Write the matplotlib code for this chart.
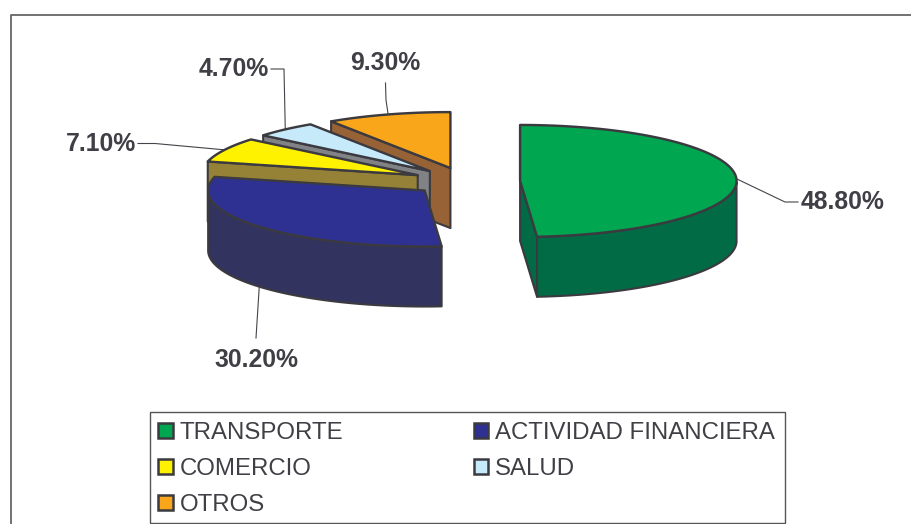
import numpy as np
import matplotlib
matplotlib.use("Agg")
import matplotlib.pyplot as plt
from matplotlib.patches import Polygon, Patch, Rectangle

# --- data
categories = ["TRANSPORTE", "ACTIVIDAD FINANCIERA", "COMERCIO", "SALUD", "OTROS"]
shares = [48.8, 30.2, 7.1, 4.7, 9.3]
top_colors = ["#00A650", "#2E3192", "#FFF200", "#C7EAFB", "#F9A61A"]
side_colors = ["#006B44", "#33335F", "#968237", "#808285", "#976236"]

# --- layout (pixel space)
W, H = 911, 524
CX, CY = 466, 181.5
RX, RY = 216.5, 56
DEPTH = 60
EXPLODE = 0.25
EDGE = "#3A3A40"
TEXT = "#3F3F45"
LW = 1.5

# label box position, and elbow / end of each leader line
label_pos = [(842.5, 202), (256, 360), (101, 144), (234, 69), (385.5, 63)]
leader_via = [[(785, 202), (798, 202)], [(256, 338)], [(155, 143.5), (138, 143.5)],
              [(284, 69), (271, 69)], [(386, 100), (385.5, 83)]]
leader_on_side = [False, True, False, False, False]

fig = plt.figure(figsize=(W / 100, H / 100), dpi=100)
ax = fig.add_axes([0, 0, 1, 1])
ax.set_xlim(0, W)
ax.set_ylim(H, 0)
ax.axis("off")
plt.rcParams["font.family"] = ["Liberation Sans", "DejaVu Sans"]

# outer chart frame
ax.plot([10.5, 10.5, W], [H, 14.5, 14.5], color="#666666", lw=1.3, solid_capstyle="butt", zorder=1)

# --- slices, clockwise from 12 o'clock
sweeps = np.array(shares) / sum(shares) * 360
starts = 90 - np.concatenate([[0], np.cumsum(sweeps)[:-1]])
ends = starts - sweeps
mids = (starts + ends) / 2
centers = [(CX + EXPLODE * RX * np.cos(np.radians(m)),
            CY - EXPLODE * RY * np.sin(np.radians(m))) for m in mids]


def ell(c, deg):
    r = np.radians(deg)
    return np.column_stack([c[0] + RX * np.cos(r), c[1] - RY * np.sin(r)])


z = 3
# paint from back to front
for i in [4, 3, 2, 1, 0]:
    c = centers[i]
    a1, a2 = starts[i], ends[i]
    arc_deg = np.linspace(a1, a2, 120)
    arc = ell(c, arc_deg)
    # radial walls that face the viewer
    for ang, vis in ((a1, np.cos(np.radians(a1)) < -1e-6), (a2, np.cos(np.radians(a2)) > 1e-6)):
        if vis:
            p = ell(c, np.array([ang]))[0]
            poly = [c, p, (p[0], p[1] + DEPTH), (c[0], c[1] + DEPTH)]
            ax.add_patch(Polygon(poly, closed=True, fc=side_colors[i], ec=EDGE, lw=LW,
                                 joinstyle="round", zorder=z))
            z += 1
    # outer rim (front half only)
    front = arc_deg[np.sin(np.radians(arc_deg)) <= 0]
    if front.size > 1:
        rim = ell(c, front)
        low = rim + np.array([0, DEPTH])
        ax.add_patch(Polygon(np.vstack([rim, low[::-1]]), closed=True, fc=side_colors[i],
                             ec=EDGE, lw=LW, joinstyle="round", zorder=z))
        z += 1
    # top face
    ax.add_patch(Polygon(np.vstack([[c], arc]), closed=True, fc=top_colors[i], ec=EDGE,
                         lw=LW * 1.15, joinstyle="round", zorder=z))
    z += 1

# --- leader lines and percentage labels
for i in range(len(shares)):
    a = ell(centers[i], np.array([mids[i]]))[0]
    if leader_on_side[i]:
        a = a + np.array([0, DEPTH])
    pts = np.vstack([[a], leader_via[i]])
    ax.plot(pts[:, 0], pts[:, 1], color="#44444A", lw=0.8, zorder=2)
    ax.text(*label_pos[i], f"{shares[i]:.2f}%", fontsize=17.8, fontweight="bold", color=TEXT,
            ha="center", va="center", zorder=50)

# --- legend frame and legend (column-first order)
ax.add_patch(Rectangle((149.5, 412), 635.5, 111, fc="white", ec="#555555", lw=1.0, zorder=59))
order = [0, 2, 4, 1, 3]
handles = [Patch(fc=top_colors[i], ec=EDGE, lw=1.8, label=categories[i]) for i in order]
leg = ax.legend(handles=handles, ncol=2, loc="upper left", bbox_to_anchor=(148.5, 412.5),
                bbox_transform=ax.transData, fontsize=17.3, frameon=False,
                borderaxespad=0, borderpad=0.4, handlelength=0.62, handleheight=0.62,
                handletextpad=0.28, columnspacing=5.42, labelspacing=0.58, labelcolor=TEXT)
leg.set_zorder(60)

fig.savefig("out.png", dpi=100)
